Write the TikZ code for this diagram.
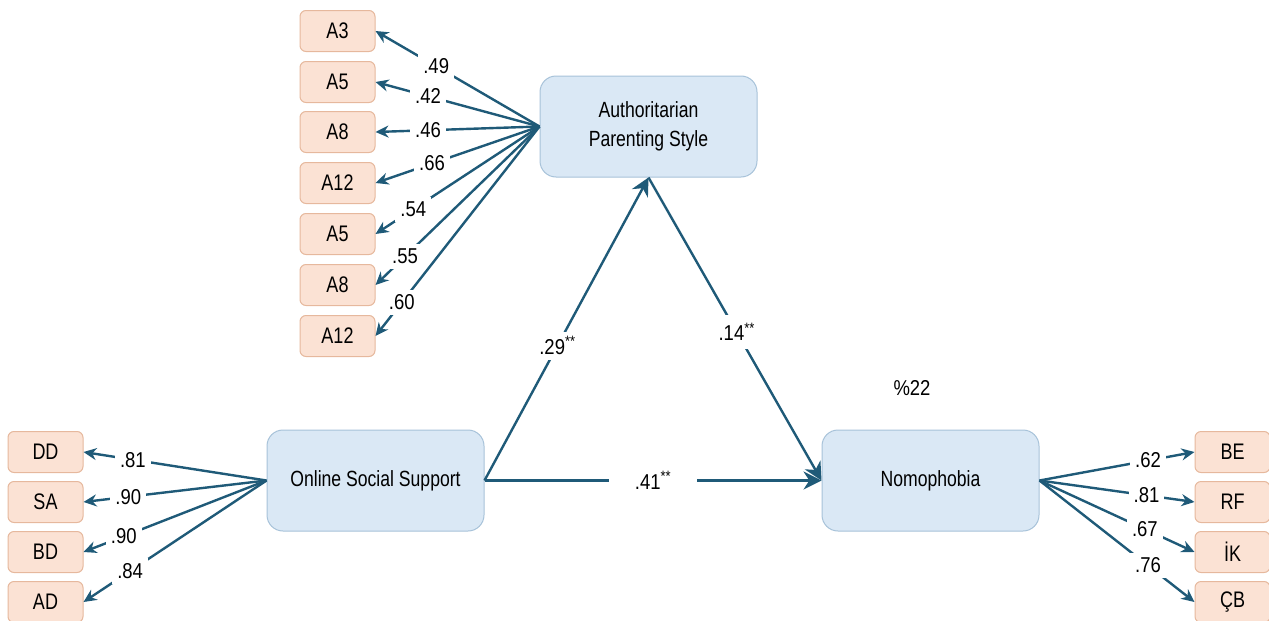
\documentclass[tikz,border=0pt]{standalone}
\usepackage{fontspec}
\setmainfont{Liberation Sans}[FakeStretch=0.86]
\newfontfamily\latfont{Liberation Sans}[FakeStretch=0.80]
\usetikzlibrary{arrows.meta}
\definecolor{pathblue}{HTML}{1F5A78}
\definecolor{latfill}{HTML}{DAE8F5}
\definecolor{latline}{HTML}{A7C2D9}
\definecolor{indfill}{HTML}{FBE2D4}
\definecolor{indline}{HTML}{E6B89D}
\tikzset{
  latent/.style={draw=latline, line width=1pt, fill=latfill, rounded corners=16pt,
    minimum width=217pt, minimum height=101pt, align=center,
    font=\latfont\fontsize{22}{29}\selectfont},
  indicator/.style={draw=indline, line width=1pt, fill=indfill, rounded corners=6pt,
    minimum width=75pt, minimum height=41pt, font=\latfont\fontsize{22.5}{24}\selectfont},
  loading/.style={draw=pathblue, line width=2.4pt, -{Stealth[length=13pt,width=12pt]}},
  structural/.style={draw=pathblue, line width=2.4pt, -{Stealth[length=18pt,width=18pt]}},
  coef/.style={fill=white, inner sep=5pt, font=\fontsize{21.5}{24}\selectfont}
}
\begin{document}
\begin{tikzpicture}[x=1pt,y=-1pt]
  \useasboundingbox (0,0) rectangle (1269,621);
  % latent variables
  \node[latent] (aps) at (648.5,126.5) {Authoritarian\\Parenting Style};
  \node[latent] (oss) at (375.5,480.5) {Online Social Support};
  \node[latent] (nom) at (930.5,480.5) {Nomophobia};
  % indicators of authoritarian parenting
  \node[indicator] (a3) at (337.5,31) {A3};
  \node[indicator] (a5) at (337.5,82) {A5};
  \node[indicator] (a8) at (337.5,132) {A8};
  \node[indicator] (a12) at (337.5,183) {A12};
  \node[indicator] (a5b) at (337.5,234) {A5};
  \node[indicator] (a8b) at (337.5,285) {A8};
  \node[indicator] (a12b) at (337.5,336) {A12};
  % indicators of online social support
  \node[indicator] (dd) at (45.5,452) {DD};
  \node[indicator] (sa) at (45.5,502) {SA};
  \node[indicator] (bd) at (45.5,552) {BD};
  \node[indicator] (ad) at (45.5,602) {AD};
  % indicators of nomophobia
  \node[indicator] (be) at (1232.5,452) {BE};
  \node[indicator] (rf) at (1232.5,502) {RF};
  \node[indicator] (ik) at (1232.5,552) {İK};
  \node[indicator] (cb) at (1232.5,602) {ÇB};
  % loadings
  \draw[loading] (aps.west) -- node[coef,pos=0.63] {.49} (a3.east);
  \draw[loading] (aps.west) -- node[coef,pos=0.68] {.42} (a5.east);
  \draw[loading] (aps.west) -- node[coef,pos=0.68] {.46} (a8.east);
  \draw[loading] (aps.west) -- node[coef,pos=0.655] {.66} (a12.east);
  \draw[loading] (aps.west) -- node[coef,pos=0.77] {.54} (a5b.east);
  \draw[loading] (aps.west) -- node[coef,pos=0.82] {.55} (a8b.east);
  \draw[loading] (aps.west) -- node[coef,pos=0.84] {.60} (a12b.east);
  \draw[loading] (oss.west) -- node[coef,pos=0.73] {.81} (dd.east);
  \draw[loading] (oss.west) -- node[coef,pos=0.755] {.90} (sa.east);
  \draw[loading] (oss.west) -- node[coef,pos=0.78] {.90} (bd.east);
  \draw[loading] (oss.west) -- node[coef,pos=0.745] {.84} (ad.east);
  \draw[loading] (nom.east) -- node[coef,pos=0.70] {.62} (be.west);
  \draw[loading] (nom.east) -- node[coef,pos=0.69] {.81} (rf.west);
  \draw[loading] (nom.east) -- node[coef,pos=0.68] {.67} (ik.west);
  \draw[loading] (nom.east) -- node[coef,pos=0.70] {.76} (cb.west);
  % structural paths
  \draw[structural] (oss.east) -- node[coef,pos=0.445] {.29\textsuperscript{**}} (aps.south);
  \draw[structural] (aps.south) -- node[coef,pos=0.51,inner sep=8pt] {.14\textsuperscript{**}} (nom.west);
  \draw[structural] (oss.east) -- node[coef,pos=0.5,inner xsep=26pt] {.41\textsuperscript{**}} (nom.west);
  \node[font=\fontsize{21.5}{24}\selectfont] (r2) at (912,388) {\%22};
\end{tikzpicture}
\end{document}
